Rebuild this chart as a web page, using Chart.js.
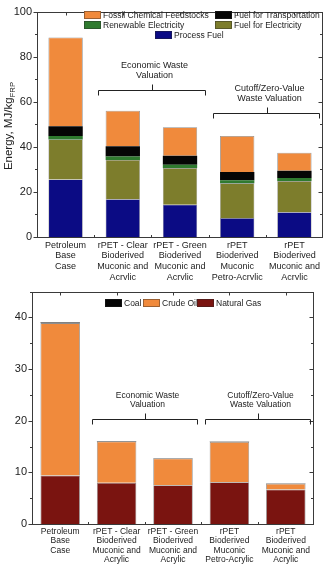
<!DOCTYPE html>
<html>
<head>
<meta charset="utf-8">
<script src="https://cdn.jsdelivr.net/npm/chart.js@4.4.1/dist/chart.umd.min.js"></script>
<style>
  html, body { margin: 0; padding: 0; background: #fff; }
  canvas { display: block; }
</style>
</head>
<body>
<canvas id="useChart" width="324" height="280"></canvas>
<canvas id="sourceChart" width="324" height="286"></canvas>
<script>
const cases = [
  ['Petroleum', 'Base', 'Case'],
  ['rPET - Clear', 'Bioderived', 'Muconic and', 'Acrylic'],
  ['rPET - Green', 'Bioderived', 'Muconic and', 'Acrylic'],
  ['rPET', 'Bioderived', 'Muconic', 'Petro-Acrylic'],
  ['rPET', 'Bioderived', 'Muconic and', 'Acrylic']
];

// energy by end use (MJ/kg FRP)
const processFuel = [25.5, 16.8, 14.3, 8.4, 11.0];
const fuelForElectricity = [17.8, 17.4, 16.3, 15.4, 13.8];
const renewableElectricity = [1.5, 1.5, 1.4, 1.4, 1.4];
const fuelForTransportation = [4.3, 4.6, 4.0, 3.6, 3.2];
const fossilFeedstocks = [39.4, 15.7, 12.7, 16.0, 8.0];

// energy by fossil source (MJ/kg FRP)
const naturalGas = [9.4, 8.0, 7.5, 8.1, 6.7];
const crudeOil = [29.5, 8.0, 5.2, 7.8, 1.1];
const coal = [0.1, 0.05, 0.05, 0.05, 0.05];

const useTicks = [0, 20, 40, 60, 80, 100];
const sourceTicks = [0, 10, 20, 30, 40];

const FONT = '"Liberation Sans", Arial, sans-serif';
const INK = '#222';
const ORANGE = '#f08a3c';

function px(v) { return Math.round(v) + 0.5; }

// box around the plot with ticks on all four sides
function drawFrame(chart, minorStep) {
  const { ctx, chartArea: a, scales: { x, y } } = chart;
  const L = px(a.left), R = px(a.right - 1), T = px(a.top), B = px(a.bottom);
  ctx.save();
  ctx.strokeStyle = '#3a3a3a';
  ctx.lineWidth = 1;
  ctx.strokeRect(L, T, R - L, B - T);
  ctx.beginPath();
  for (let v = y.min; v <= y.max + 1e-6; v += minorStep) {
    const yy = px(y.getPixelForValue(v));
    const major = y.ticks.some(t => Math.abs(t.value - v) < 1e-6);
    const len = major ? 4 : 2.5;
    ctx.moveTo(L - len, yy); ctx.lineTo(L, yy);
    ctx.moveTo(R, yy); ctx.lineTo(R - len, yy);
  }
  const n = x.ticks.length;
  for (let i = 0; i < n; i++) {
    const cx = px(x.getPixelForValue(i));
    ctx.moveTo(cx, T); ctx.lineTo(cx, T + 3);
    if (i > 0) {
      const bx = px((x.getPixelForValue(i) + x.getPixelForValue(i - 1)) / 2);
      ctx.moveTo(bx, B); ctx.lineTo(bx, B - 2.5);
    }
  }
  ctx.stroke();
  ctx.restore();
}

function drawYTitle(chart, cx, cy, size) {
  const ctx = chart.ctx;
  const main = 'Energy, MJ/kg', sub = 'FRP';
  ctx.save();
  ctx.font = size + 'px ' + FONT;
  const w1 = ctx.measureText(main).width;
  const subFont = (size * 0.68).toFixed(1) + 'px ' + FONT;
  ctx.font = subFont;
  const w2 = ctx.measureText(sub).width;
  ctx.translate(cx, cy);
  ctx.rotate(-Math.PI / 2);
  ctx.fillStyle = INK;
  ctx.textBaseline = 'middle';
  ctx.textAlign = 'left';
  const start = -(w1 + w2) / 2;
  ctx.font = size + 'px ' + FONT;
  ctx.fillText(main, start, 0);
  ctx.font = subFont;
  ctx.fillText(sub, start + w1, size * 0.32);
  ctx.restore();
}

function drawLegend(chart, items, size) {
  const ctx = chart.ctx;
  ctx.save();
  ctx.font = size + 'px ' + FONT;
  ctx.textBaseline = 'middle';
  ctx.textAlign = 'left';
  items.forEach(it => {
    ctx.fillStyle = it.color;
    ctx.fillRect(it.x, it.y - 4, 17, 8);
    ctx.strokeStyle = 'rgba(40,40,40,0.6)';
    ctx.lineWidth = 0.7;
    ctx.strokeRect(it.x + 0.5, it.y - 3.5, 16, 7);
    ctx.fillStyle = INK;
    ctx.fillText(it.label, it.x + 19, it.y + 0.5);
  });
  ctx.restore();
}

// bracket spanning a group of cases, with its caption above
function drawBracket(chart, i0, i1, yVal, lines, size, lineGap) {
  const { ctx, scales: { x, y } } = chart;
  const half = (x.getPixelForValue(1) - x.getPixelForValue(0)) * 0.43;
  const x0 = px(x.getPixelForValue(i0) - half);
  const x1 = px(x.getPixelForValue(i1) + half);
  const yy = px(y.getPixelForValue(yVal));
  const mid = px((x0 + x1) / 2);
  ctx.save();
  ctx.strokeStyle = '#222';
  ctx.lineWidth = 1;
  ctx.beginPath();
  ctx.moveTo(x0, yy + 5); ctx.lineTo(x0, yy); ctx.lineTo(x1, yy); ctx.lineTo(x1, yy + 5);
  ctx.moveTo(mid, yy); ctx.lineTo(mid, yy - 6);
  ctx.stroke();
  ctx.font = size + 'px ' + FONT;
  ctx.fillStyle = INK;
  ctx.textAlign = 'center';
  ctx.textBaseline = 'middle';
  const topY = yy - 10 - lineGap * (lines.length - 0.5);
  lines.forEach((t, k) => ctx.fillText(t, mid + 2, topY + k * lineGap));
  ctx.restore();
}

function baseOptions(opts) {
  return {
    responsive: false,
    animation: false,
    devicePixelRatio: 1,
    layout: { padding: opts.padding },
    plugins: { legend: { display: false }, tooltip: { enabled: false } },
    scales: {
      x: {
        stacked: true,
        grid: { display: false, drawTicks: false },
        border: { display: false },
        ticks: {
          color: INK, autoSkip: false, maxRotation: 0, padding: opts.xPad,
          font: { family: FONT, size: opts.xFont, lineHeight: opts.xLine }
        },
        afterFit: s => { s.height = opts.xHeight; }
      },
      y: {
        stacked: true,
        min: opts.ticks[0],
        max: opts.yMax,
        grid: { display: false, drawTicks: false },
        border: { display: false },
        afterBuildTicks: s => { s.ticks = opts.ticks.map(v => ({ value: v })); },
        ticks: { color: INK, padding: 5, font: { family: FONT, size: 11 } },
        afterFit: s => { s.width = opts.yWidth; }
      }
    }
  };
}

function seg(label, data, color, border) {
  return {
    label, data, backgroundColor: color,
    borderColor: 'rgba(50,50,50,0.55)', borderWidth: border,
    barPercentage: 0.6, categoryPercentage: 1
  };
}

// energy by end use
const useOpts = baseOptions({
  padding: { left: 0, right: 1, top: 7, bottom: 0 },
  xHeight: 43, yWidth: 37, xPad: 3, xFont: 9, xLine: 1.18,
  ticks: useTicks, yMax: 100
});

new Chart(document.getElementById('useChart'), {
  type: 'bar',
  data: {
    labels: cases,
    datasets: [
      seg('Process Fuel', processFuel, '#0b0b84', 0.6),
      seg('Fuel for Electricity', fuelForElectricity, '#7d7d2c', 0.6),
      seg('Renewable Electricity', renewableElectricity, '#2f7a2f', 0),
      seg('Fuel for Transportation', fuelForTransportation, '#050505', 0),
      seg('Fossil Chemical Feedstocks', fossilFeedstocks, ORANGE, 0.8)
    ]
  },
  options: useOpts,
  plugins: [{
    id: 'useDecor',
    afterDraw(chart) {
      drawFrame(chart, 10);
      drawYTitle(chart, 9, 126, 11.5);
      drawLegend(chart, [
        { label: 'Fossil Chemical Feedstocks', color: ORANGE, x: 84, y: 15 },
        { label: 'Fuel for Transportation', color: '#050505', x: 215, y: 15 },
        { label: 'Renewable Electricity', color: '#2f7a2f', x: 84, y: 25 },
        { label: 'Fuel for Electricity', color: '#7d7d2c', x: 215, y: 25 },
        { label: 'Process Fuel', color: '#0b0b84', x: 155, y: 35 }
      ], 8.5);
      drawBracket(chart, 1, 2, 65.2, ['Economic Waste', 'Valuation'], 9, 10);
      drawBracket(chart, 3, 4, 54.8, ['Cutoff/Zero-Value', 'Waste Valuation'], 9, 10);
    }
  }]
});

// energy by fossil source
const sourceOpts = baseOptions({
  padding: { left: 0, right: 10, top: 10, bottom: 0 },
  xHeight: 42, yWidth: 32, xPad: 3, xFont: 8.5, xLine: 1.1,
  ticks: sourceTicks, yMax: 45
});

new Chart(document.getElementById('sourceChart'), {
  type: 'bar',
  data: {
    labels: cases,
    datasets: [
      Object.assign(seg('Natural Gas', naturalGas, '#7a1410', 0.8), { barPercentage: 0.7 }),
      Object.assign(seg('Crude Oil', crudeOil, ORANGE, 0.8), { barPercentage: 0.7 }),
      Object.assign(seg('Coal', coal, '#050505', 0), { barPercentage: 0.7 })
    ]
  },
  options: sourceOpts,
  plugins: [{
    id: 'sourceDecor',
    afterDraw(chart) {
      drawFrame(chart, 5);
      drawYTitle(chart, 8, 413, 12);
      drawLegend(chart, [
        { label: 'Coal', color: '#050505', x: 105, y: 23 },
        { label: 'Crude Oil', color: ORANGE, x: 143, y: 23 },
        { label: 'Natural Gas', color: '#7a1410', x: 197, y: 23 }
      ], 8.5);
      drawBracket(chart, 1, 2, 20.4, ['Economic Waste', 'Valuation'], 8.5, 9.5);
      drawBracket(chart, 3, 4, 20.4, ['Cutoff/Zero-Value', 'Waste Valuation'], 8.5, 9.5);
    }
  }]
});
</script>
</body>
</html>
